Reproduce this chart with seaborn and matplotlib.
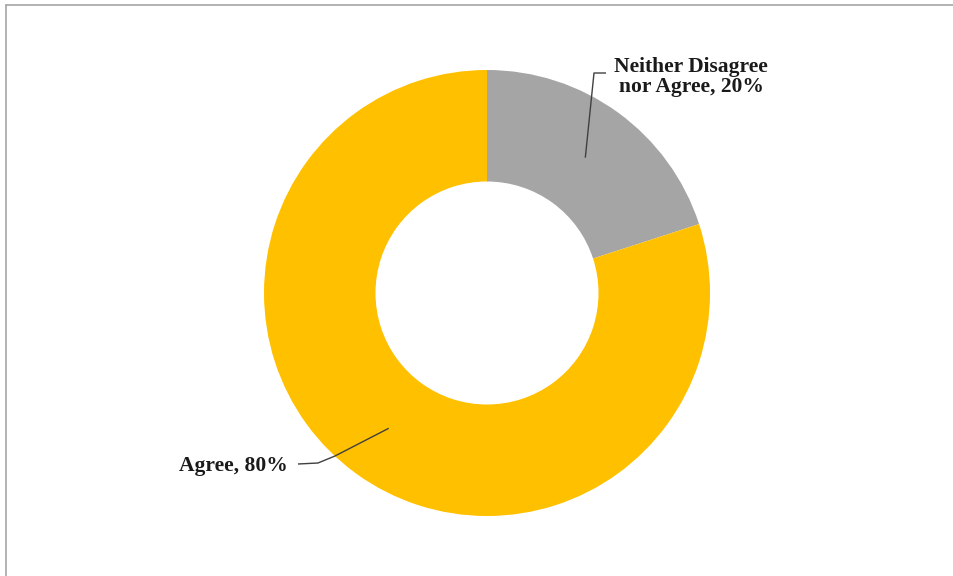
import numpy as np
import matplotlib
matplotlib.use("Agg")
import matplotlib.pyplot as plt
from matplotlib.lines import Line2D
import seaborn as sns

# Survey response shares
categories = ["Neither Disagree\nnor Agree", "Agree"]
shares = [20, 80]
colors = ["#A5A5A5", "#FFC000"]

sns.set_theme(style="white")
plt.rcParams["font.family"] = ["Liberation Serif", "DejaVu Serif"]

W, H = 954, 576
fig = plt.figure(figsize=(W / 100, H / 100), dpi=100)
fig.patch.set_facecolor("white")

# Donut centred at (487, 293) px with outer radius 223 px
cx, cy, R = 487, 293, 223
ax = fig.add_axes([(cx - R) / W, (H - cy - R) / H, 2 * R / W, 2 * R / H])
ax.set_aspect("equal")
ax.axis("off")

ring = 0.5
wedges, _ = ax.pie(shares, colors=colors, startangle=90, counterclock=False,
                   radius=1.0, wedgeprops=dict(width=ring, linewidth=0),
                   center=(0, 0), frame=False)
ax.set_xlim(-1, 1)
ax.set_ylim(-1, 1)

# Leader lines start at the middle of each ring segment
def anchor(w):
    ang = np.deg2rad((w.theta1 + w.theta2) / 2)
    r = 1.0 - ring / 2
    return r * np.cos(ang), r * np.sin(ang)

def px(x, y):
    return (x - cx) / R, (cy - y) / R

line_kw = dict(color="#404040", lw=1.0, solid_capstyle="butt")
text_kw = dict(fontsize=15.5, fontweight="bold", color="#1a1a1a",
               linespacing=0.98, clip_on=False)

# Neither Disagree nor Agree
a = anchor(wedges[0])
e1 = px(594, 73)
e2 = px(606, 73)
ax.plot([a[0], e1[0], e2[0]], [a[1], e1[1], e2[1]], clip_on=False, **line_kw)
tx, ty = px(691, 77)
ax.text(tx, ty, f"{categories[0]}, {shares[0]}%", ha="center", va="center", **text_kw)

# Agree
a = anchor(wedges[1])
p1 = px(335, 456)
p2 = px(318, 463)
p3 = px(298, 464)
ax.plot([a[0], p1[0], p2[0], p3[0]], [a[1], p1[1], p2[1], p3[1]], clip_on=False, **line_kw)
tx, ty = px(288, 466)
ax.text(tx, ty, f"{categories[1]}, {shares[1]}%", ha="right", va="center", **text_kw)

# Chart-area frame (top and left edges visible)
fig.add_artist(Line2D([6 / W, 1.0], [1 - 5 / H, 1 - 5 / H], color="#a6a6a6", lw=1.2,
                      transform=fig.transFigure))
fig.add_artist(Line2D([6 / W, 6 / W], [0.0, 1 - 5 / H], color="#a6a6a6", lw=1.2,
                      transform=fig.transFigure))

fig.savefig("out.png", dpi=100, facecolor="white")
